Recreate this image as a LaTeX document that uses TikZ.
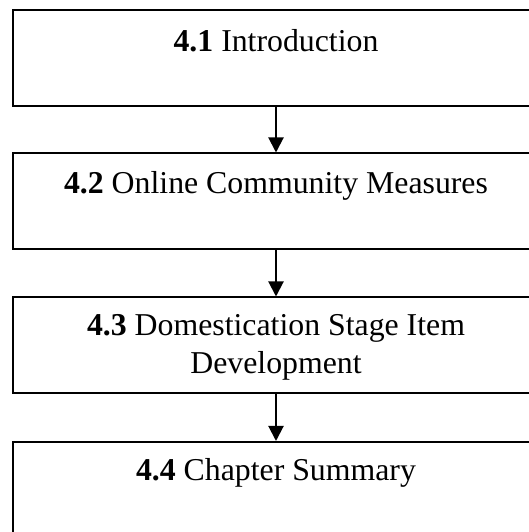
\documentclass[tikz,border=0pt]{standalone}
\usepackage{fontspec}
\setmainfont{Liberation Serif}
\usetikzlibrary{arrows.meta}
\begin{document}
\begin{tikzpicture}[x=1pt,y=1pt,
  stagebox/.style={draw=black,line width=2pt,minimum width=526pt,minimum height=96pt,inner sep=0pt},
  stagetext/.style={anchor=base,align=center,inner sep=0pt,font=\fontsize{31.8}{38}\selectfont},
  flow/.style={line width=2pt,-{Triangle[width=15pt,length=15pt]}}]
\useasboundingbox (0,0) rectangle (529,532);
\clip (0,0) rectangle (529,532);
% the four chapter boxes (the last one runs past the lower edge)
\node[stagebox] (b1) at (276,474) {};
\node[stagebox] (b2) at (276,330.5) {};
\node[stagebox] (b3) at (276,186.5) {};
\node[stagebox] (b4) at (276,42) {};
% section titles (base of a two-line title is its last line)
\node[stagetext] (t1) at ([yshift=-43pt]b1.north) {\textbf{4.1} Introduction};
\node[stagetext] (t2) at ([yshift=-41pt]b2.north) {\textbf{4.2} Online Community Measures};
\node[stagetext] (t3) at ([yshift=-77pt]b3.north) {\textbf{4.3} Domestication Stage Item\\Development};
\node[stagetext] (t4) at ([yshift=-40pt]b4.north) {\textbf{4.4} Chapter Summary};
% connectors
\draw[flow] (b1.south) -- (b2.north);
\draw[flow] (b2.south) -- (b3.north);
\draw[flow] (b3.south) -- (b4.north);
\end{tikzpicture}
\end{document}
